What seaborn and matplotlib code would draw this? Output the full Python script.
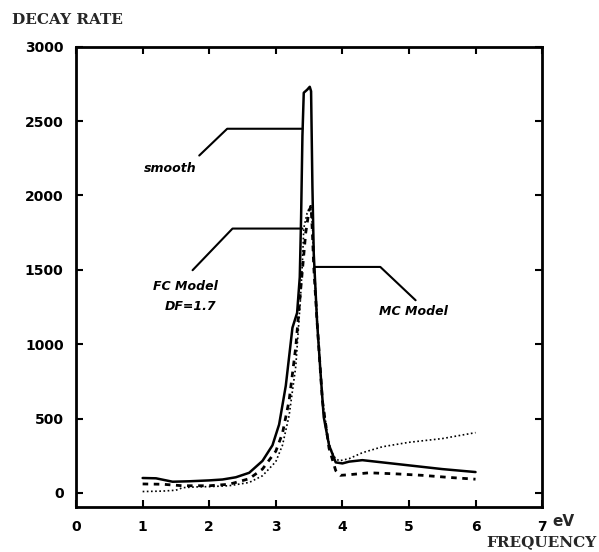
import matplotlib
matplotlib.use("Agg")
import matplotlib.pyplot as plt
import seaborn as sns
import pandas as pd

# ---- data ----
smooth_x = [1.0, 1.2, 1.45, 1.7, 2.0, 2.2, 2.4, 2.6, 2.8, 2.95, 3.05, 3.15, 3.25, 3.32,
            3.36, 3.38, 3.40, 3.42, 3.47, 3.51, 3.53, 3.55, 3.57, 3.62, 3.67, 3.72, 3.8,
            3.9, 4.0, 4.1, 4.3, 4.6, 5.0, 5.5, 6.0]
smooth_y = [100, 98, 75, 78, 84, 90, 105, 135, 215, 320, 460, 720, 1110, 1210,
            1450, 1850, 2400, 2690, 2710, 2730, 2700, 2060, 1610, 1150, 820, 510, 320,
            205, 198, 210, 220, 205, 185, 160, 140]

mc_x = [1.0, 1.3, 1.6, 2.0, 2.3, 2.6, 2.8, 3.0, 3.1, 3.2, 3.3, 3.38, 3.45, 3.5, 3.53,
        3.55, 3.57, 3.62, 3.7, 3.8, 3.9, 3.97, 4.1, 4.4, 4.8, 5.2, 5.6, 6.0]
mc_y = [60, 58, 48, 48, 58, 95, 160, 280, 400, 620, 980, 1400, 1750, 1900, 1925,
        1750, 1520, 1150, 620, 300, 150, 118, 122, 135, 128, 118, 104, 92]

fc_x = [1.0, 1.3, 1.5, 1.6, 1.8, 2.0, 2.3, 2.6, 2.8, 3.0, 3.1, 3.2, 3.3, 3.37, 3.40,
        3.42, 3.47, 3.52, 3.55, 3.58, 3.63, 3.7, 3.8, 3.87, 3.95, 4.1, 4.3, 4.6, 5.0,
        5.5, 6.0]
fc_y = [9, 12, 18, 35, 40, 42, 48, 70, 115, 210, 320, 520, 850, 1300, 1550,
        1780, 1880, 1930, 1800, 1500, 1100, 620, 330, 245, 215, 230, 270, 310, 340,
        365, 405]

x_ticks = [0, 1, 2, 3, 4, 5, 6, 7]
y_ticks = [0, 500, 1000, 1500, 2000, 2500, 3000]

sns.set_theme(style="white")
plt.rcParams["font.family"] = ["DejaVu Sans"]

fig = plt.figure(figsize=(5.99, 5.52), dpi=100)
ax = fig.add_axes([0.127, 0.0815, 0.778, 0.834])

df_s = pd.DataFrame({"x": smooth_x, "y": smooth_y})
df_m = pd.DataFrame({"x": mc_x, "y": mc_y})
df_f = pd.DataFrame({"x": fc_x, "y": fc_y})

sns.lineplot(data=df_s, x="x", y="y", ax=ax, color="black", lw=1.8, sort=False,
             estimator=None)
sns.lineplot(data=df_m, x="x", y="y", ax=ax, color="black", lw=2.0, sort=False,
             estimator=None, dashes=False, linestyle=(0, (2.0, 2.0)))
sns.lineplot(data=df_f, x="x", y="y", ax=ax, color="black", lw=1.2, sort=False,
             estimator=None, linestyle=(0, (1.0, 1.5)))

ax.set_xlim(0, 7)
ax.set_ylim(-95, 3000)
ax.set_xticks(x_ticks)
ax.set_yticks(y_ticks)
ax.set_xticklabels([str(t) for t in x_ticks])
ax.set_yticklabels([str(t) for t in y_ticks])
ax.set_xlabel("")
ax.set_ylabel("")

for sp in ax.spines.values():
    sp.set_visible(True)
    sp.set_color("black")
    sp.set_linewidth(2.0)

ax.tick_params(axis="both", which="both", direction="in", length=5, width=1.5,
               top=True, right=True, bottom=True, left=True, colors="black",
               labelsize=10, pad=9)
for lab in ax.get_xticklabels() + ax.get_yticklabels():
    lab.set_fontweight("bold")
    lab.set_family("DejaVu Sans")

# annotations with leader lines
ann_kw = dict(fontsize=9, fontweight="bold", fontstyle="italic", color="black",
              family="DejaVu Sans")
ax.plot([1.85, 2.27, 3.40], [2268, 2448, 2448], color="black", lw=1.5)
ax.text(1.42, 2179, "smooth", ha="center", va="center", **ann_kw)

ax.plot([1.75, 2.35, 3.40], [1497, 1777, 1777], color="black", lw=1.5)
ax.text(1.64, 1385, "FC Model", ha="center", va="center", **ann_kw)
ax.text(1.72, 1250, "DF=1.7", ha="center", va="center", **ann_kw)

ax.plot([3.58, 4.57, 5.10], [1519, 1519, 1295], color="black", lw=1.5)
ax.text(5.07, 1217, "MC Model", ha="center", va="center", **ann_kw)

# axis titles
fig.text(12 / 599, 1 - 20 / 552, "DECAY RATE", ha="left", va="center",
         fontsize=11, fontweight="bold", family="DejaVu Serif")
fig.text(597 / 599, 1 - 542 / 552, "FREQUENCY", ha="right", va="center",
         fontsize=11, fontweight="bold", family="DejaVu Serif")
fig.text(563 / 599, 1 - 521 / 552, "eV", ha="center", va="center",
         fontsize=11, fontweight="bold", family="DejaVu Sans")

fig.savefig("out.png", dpi=100, facecolor="white")
